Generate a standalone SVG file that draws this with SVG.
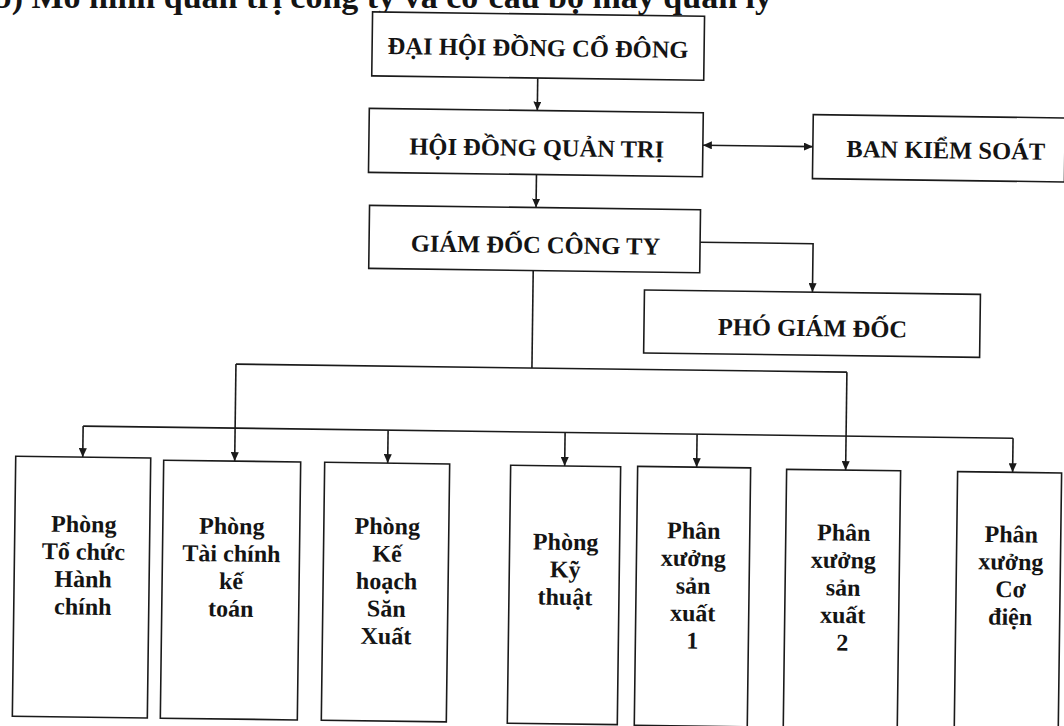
<svg xmlns="http://www.w3.org/2000/svg" width="1064" height="726" viewBox="0 0 1064 726">
  <defs>
    <style>
      .box { fill: #ffffff; stroke: #1a1a1a; stroke-width: 1.6; }
      .wire { fill: none; stroke: #1a1a1a; stroke-width: 1.6; }
      .t { font-family: "Liberation Serif", "Times New Roman", serif; font-weight: bold; fill: #141414; text-anchor: middle; }
      .big { font-size: 24.5px; }
      .small { font-size: 24px; }
      .title { font-family: "Liberation Serif", "Times New Roman", serif; font-weight: bold; font-size: 34px; fill: #141414; text-anchor: end; }
    </style>
    <marker id="arr" markerUnits="userSpaceOnUse" markerWidth="9" markerHeight="8" refX="9" refY="4" orient="auto-start-reverse">
      <path d="M0,0 L9,4 L0,8 Z" fill="#1a1a1a"/>
    </marker>
  </defs>
  <rect x="0" y="0" width="1064" height="726" fill="#ffffff"/>
  <text class="title" x="772" y="8">b) Mô hình quản trị công ty và cơ cấu bộ máy quản lý</text>
  <g transform="rotate(0.75 532 363)">
    <g id="connectors">
      <path class="wire" d="M534,78 V110.5" marker-end="url(#arr)"/>
      <path class="wire" d="M534,174.5 V207.5" marker-end="url(#arr)"/>
      <path class="wire" d="M700,143 H810" marker-start="url(#arr)" marker-end="url(#arr)"/>
      <path class="wire" d="M698.5,240 H811.5 V288.5" marker-end="url(#arr)"/>
      <path class="wire" d="M532,270.5 V368"/>
      <path class="wire" d="M236,368 H847"/>
      <path class="wire" d="M236,368 V465" marker-end="url(#arr)"/>
      <path class="wire" d="M847,368 V466" marker-end="url(#arr)"/>
      <path class="wire" d="M84,432 H1014"/>
      <path class="wire" d="M84,432 V463" marker-end="url(#arr)"/>
      <path class="wire" d="M389,432 V465" marker-end="url(#arr)"/>
      <path class="wire" d="M566,432 V465.5" marker-end="url(#arr)"/>
      <path class="wire" d="M698,432 V465" marker-end="url(#arr)"/>
      <path class="wire" d="M1014,432 V466" marker-end="url(#arr)"/>
    </g>
    <g id="dhdcd">
      <rect class="box" x="368" y="14" width="332" height="64"/>
      <text class="t big" x="534" y="56">ĐẠI HỘI ĐỒNG CỔ ĐÔNG</text>
    </g>
    <g id="hdqt">
      <rect class="box" x="366" y="110.5" width="334" height="64"/>
      <text class="t big" x="534" y="156">HỘI ĐỒNG QUẢN TRỊ</text>
    </g>
    <g id="bks">
      <rect class="box" x="810" y="111" width="252" height="64"/>
      <text class="t big" x="943" y="153">BAN KIỂM SOÁT</text>
    </g>
    <g id="gd">
      <rect class="box" x="367.5" y="207.5" width="331" height="63"/>
      <text class="t big" x="534" y="253">GIÁM ĐỐC CÔNG TY</text>
    </g>
    <g id="pgd">
      <rect class="box" x="643.5" y="288.5" width="336" height="63"/>
      <text class="t big" x="812" y="332.5">PHÓ GIÁM ĐỐC</text>
    </g>
    <g id="p-tchc">
      <rect class="box" x="17" y="463" width="135" height="260"/>
      <text class="t small" x="86" y="538">Phòng</text>
      <text class="t small" x="86" y="565.5">Tổ chức</text>
      <text class="t small" x="86" y="593">Hành</text>
      <text class="t small" x="86" y="620.5">chính</text>
    </g>
    <g id="p-tckt">
      <rect class="box" x="165" y="465" width="137" height="258"/>
      <text class="t small" x="234" y="538">Phòng</text>
      <text class="t small" x="234" y="565.5">Tài chính</text>
      <text class="t small" x="234" y="593">kế</text>
      <text class="t small" x="234" y="620.5">toán</text>
    </g>
    <g id="p-khsx">
      <rect class="box" x="326" y="465" width="125" height="258"/>
      <text class="t small" x="389.5" y="536">Phòng</text>
      <text class="t small" x="389.5" y="563.5">Kế</text>
      <text class="t small" x="389.5" y="591">hoạch</text>
      <text class="t small" x="389.5" y="618.5">Săn</text>
      <text class="t small" x="389.5" y="646">Xuất</text>
    </g>
    <g id="p-kt">
      <rect class="box" x="512" y="465.5" width="110" height="258"/>
      <text class="t small" x="568" y="549.5">Phòng</text>
      <text class="t small" x="568" y="577">Kỹ</text>
      <text class="t small" x="568" y="604.5">thuật</text>
    </g>
    <g id="px1">
      <rect class="box" x="639" y="465" width="113" height="259"/>
      <text class="t small" x="696" y="536.5">Phân</text>
      <text class="t small" x="696" y="564">xưởng</text>
      <text class="t small" x="696" y="591.5">sản</text>
      <text class="t small" x="696" y="619">xuất</text>
      <text class="t small" x="696" y="646.5">1</text>
    </g>
    <g id="px2">
      <rect class="box" x="788" y="466" width="114" height="264"/>
      <text class="t small" x="846" y="536.5">Phân</text>
      <text class="t small" x="846" y="564">xưởng</text>
      <text class="t small" x="846" y="591.5">sản</text>
      <text class="t small" x="846" y="619">xuất</text>
      <text class="t small" x="846" y="646.5">2</text>
    </g>
    <g id="px-cd">
      <rect class="box" x="959" y="466" width="104" height="268"/>
      <text class="t small" x="1013.5" y="536">Phân</text>
      <text class="t small" x="1013.5" y="563.5">xưởng</text>
      <text class="t small" x="1013.5" y="591">Cơ</text>
      <text class="t small" x="1013.5" y="618.5">điện</text>
    </g>
  </g>
</svg>
